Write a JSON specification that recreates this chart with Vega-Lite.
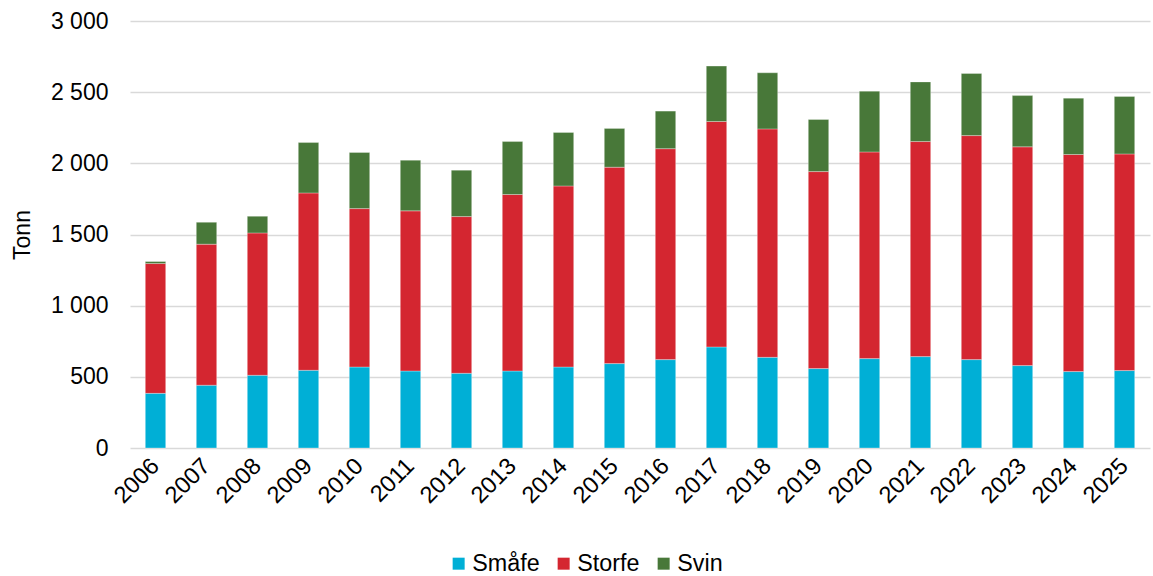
{
  "$schema": "https://vega.github.io/schema/vega-lite/v6.json",
  "width": 1020,
  "height": 427,
  "autosize": {"type": "none"},
  "padding": {"left": 130, "top": 21, "right": 3, "bottom": 128},
  "background": "white",
  "config": {
    "font": "Liberation Sans",
    "view": {"stroke": null}
  },
  "data": {
    "values": [
      {"year": "2006", "type": "Småfe", "tonn": 384}, {"year": "2006", "type": "Storfe", "tonn": 912}, {"year": "2006", "type": "Svin", "tonn": 14},
      {"year": "2007", "type": "Småfe", "tonn": 441}, {"year": "2007", "type": "Storfe", "tonn": 991}, {"year": "2007", "type": "Svin", "tonn": 154},
      {"year": "2008", "type": "Småfe", "tonn": 511}, {"year": "2008", "type": "Storfe", "tonn": 1000}, {"year": "2008", "type": "Svin", "tonn": 117},
      {"year": "2009", "type": "Småfe", "tonn": 546}, {"year": "2009", "type": "Storfe", "tonn": 1246}, {"year": "2009", "type": "Svin", "tonn": 354},
      {"year": "2010", "type": "Småfe", "tonn": 569}, {"year": "2010", "type": "Storfe", "tonn": 1113}, {"year": "2010", "type": "Svin", "tonn": 394},
      {"year": "2011", "type": "Småfe", "tonn": 541}, {"year": "2011", "type": "Storfe", "tonn": 1125}, {"year": "2011", "type": "Svin", "tonn": 356},
      {"year": "2012", "type": "Småfe", "tonn": 525}, {"year": "2012", "type": "Storfe", "tonn": 1101}, {"year": "2012", "type": "Svin", "tonn": 326},
      {"year": "2013", "type": "Småfe", "tonn": 541}, {"year": "2013", "type": "Storfe", "tonn": 1240}, {"year": "2013", "type": "Svin", "tonn": 372},
      {"year": "2014", "type": "Småfe", "tonn": 569}, {"year": "2014", "type": "Storfe", "tonn": 1272}, {"year": "2014", "type": "Svin", "tonn": 376},
      {"year": "2015", "type": "Småfe", "tonn": 593}, {"year": "2015", "type": "Storfe", "tonn": 1380}, {"year": "2015", "type": "Svin", "tonn": 272},
      {"year": "2016", "type": "Småfe", "tonn": 621}, {"year": "2016", "type": "Storfe", "tonn": 1482}, {"year": "2016", "type": "Svin", "tonn": 264},
      {"year": "2017", "type": "Småfe", "tonn": 710}, {"year": "2017", "type": "Storfe", "tonn": 1584}, {"year": "2017", "type": "Svin", "tonn": 389},
      {"year": "2018", "type": "Småfe", "tonn": 637}, {"year": "2018", "type": "Storfe", "tonn": 1605}, {"year": "2018", "type": "Svin", "tonn": 394},
      {"year": "2019", "type": "Småfe", "tonn": 558}, {"year": "2019", "type": "Storfe", "tonn": 1384}, {"year": "2019", "type": "Svin", "tonn": 366},
      {"year": "2020", "type": "Småfe", "tonn": 628}, {"year": "2020", "type": "Storfe", "tonn": 1452}, {"year": "2020", "type": "Svin", "tonn": 427},
      {"year": "2021", "type": "Småfe", "tonn": 642}, {"year": "2021", "type": "Storfe", "tonn": 1511}, {"year": "2021", "type": "Svin", "tonn": 419},
      {"year": "2022", "type": "Småfe", "tonn": 621}, {"year": "2022", "type": "Storfe", "tonn": 1574}, {"year": "2022", "type": "Svin", "tonn": 436},
      {"year": "2023", "type": "Småfe", "tonn": 579}, {"year": "2023", "type": "Storfe", "tonn": 1537}, {"year": "2023", "type": "Svin", "tonn": 360},
      {"year": "2024", "type": "Småfe", "tonn": 537}, {"year": "2024", "type": "Storfe", "tonn": 1525}, {"year": "2024", "type": "Svin", "tonn": 396},
      {"year": "2025", "type": "Småfe", "tonn": 544}, {"year": "2025", "type": "Storfe", "tonn": 1522}, {"year": "2025", "type": "Svin", "tonn": 404}
    ]
  },
  "mark": {"type": "bar", "stroke": "white", "strokeWidth": 0.5, "strokeOpacity": 0.6},
  "encoding": {
    "x": {
      "field": "year",
      "type": "ordinal",
      "title": null,
      "scale": {"paddingInner": 0.6, "paddingOuter": 0.3},
      "axis": {
        "labelAngle": -45,
        "labelAlign": "right",
        "labelBaseline": "middle",
        "labelFontSize": 23.5,
        "labelColor": "#000000",
        "labelPadding": 14,
        "ticks": false,
        "domain": false,
        "grid": false
      }
    },
    "y": {
      "field": "tonn",
      "type": "quantitative",
      "stack": "zero",
      "title": "Tonn",
      "scale": {"domain": [0, 3000], "nice": false},
      "axis": {
        "values": [0, 500, 1000, 1500, 2000, 2500, 3000],
        "labelExpr": "replace(format(datum.value, ','), ',', ' ')",
        "labelFontSize": 23,
        "labelColor": "#000000",
        "labelPadding": 22,
        "titleFontSize": 23,
        "titleFontWeight": "normal",
        "titleColor": "#000000",
        "titlePadding": 16,
        "ticks": false,
        "domain": false,
        "grid": true,
        "gridColor": "#d9d9d9",
        "gridWidth": 1.5
      }
    },
    "order": {"field": "type", "sort": "ascending"},
    "color": {
      "field": "type",
      "type": "nominal",
      "scale": {"domain": ["Småfe", "Storfe", "Svin"], "range": ["#00AFD6", "#D42630", "#487839"]},
      "legend": {
        "title": null,
        "orient": "none",
        "direction": "horizontal",
        "legendX": 317,
        "legendY": 531,
        "symbolType": "square",
        "symbolSize": 144,
        "symbolStrokeWidth": 0,
        "symbolOpacity": 1,
        "labelFontSize": 23.3,
        "labelColor": "#000000",
        "labelOffset": 2,
        "columnPadding": 12
      }
    }
  }
}
